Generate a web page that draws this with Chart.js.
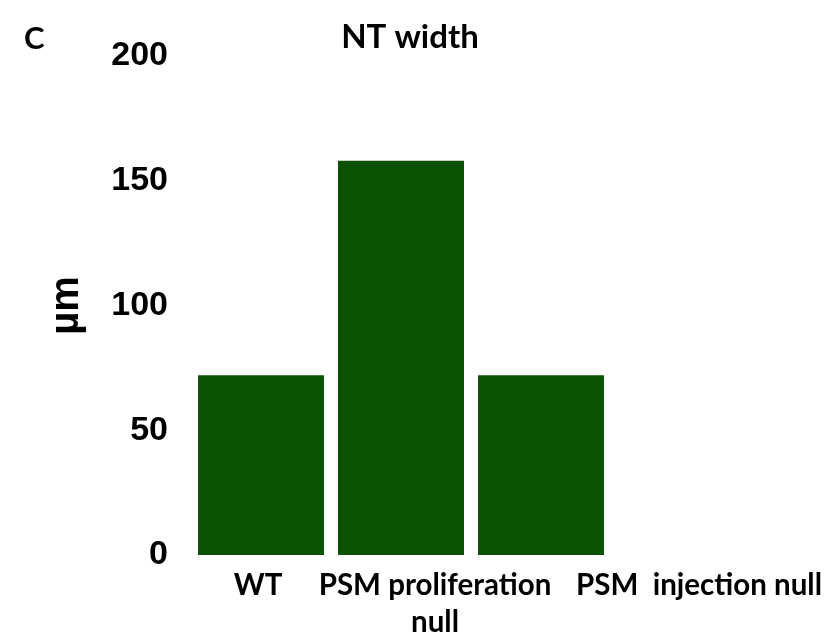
<!DOCTYPE html>
<html lang="en">
<head>
    <meta charset="UTF-8">
    <title>NT width</title>
    <script src="https://cdn.jsdelivr.net/npm/chart.js"></script>
    <style>
        body { margin: 0; background: #fff; }
        .container { width: 833px; height: 640px; }
    </style>
</head>
<body>
    <div class="container">
        <canvas id="ntChart"></canvas>
    </div>

    <script>
        // data
        const categories = [['WT'], ['PSM proliferation', 'null'], ['PSM  injection null']];
        const ntWidth = [72, 158, 72];
        const yTicks = [0, 50, 100, 150, 200];

        const barColor = '#0c5203';
        const labelFont = 'bold 29.5px Lato';
        // the x labels in the figure sit off-centre from their bars
        const labelShift = [-3, 34, 158];

        const extraText = {
            id: 'extraText',
            afterDraw(chart) {
                const ctx = chart.ctx;
                const x = chart.scales.x;
                ctx.save();
                ctx.fillStyle = '#000';
                ctx.textAlign = 'center';
                ctx.textBaseline = 'middle';
                ctx.font = labelFont;
                categories.forEach((lines, i) => {
                    const px = x.getPixelForValue(i) + labelShift[i];
                    lines.forEach((line, j) => {
                        ctx.fillText(line, px, 585 + j * 37);
                    });
                });
                // title, sitting right of the plot centre as in the figure
                ctx.font = 'bold 33px Lato';
                ctx.fillText('NT width', 410, 37);
                // panel letter
                ctx.font = 'bold 31px Lato';
                ctx.textAlign = 'left';
                ctx.fillText('C', 24, 39);
                ctx.restore();
            }
        };

        const ctx = document.getElementById('ntChart').getContext('2d');
        new Chart(ctx, {
            type: 'bar',
            data: {
                labels: categories,
                datasets: [{
                    label: 'NT width',
                    data: ntWidth,
                    backgroundColor: barColor,
                    borderWidth: 0,
                    barPercentage: 0.9,
                    categoryPercentage: 1.0
                }]
            },
            options: {
                responsive: true,
                maintainAspectRatio: false,
                animation: false,
                layout: {
                    padding: { top: 56, right: 222, bottom: 85, left: 0 }
                },
                plugins: {
                    legend: { display: false },
                    tooltip: { enabled: false },
                    title: { display: false }
                },
                scales: {
                    x: {
                        grid: { display: false, drawTicks: false },
                        border: { display: false },
                        ticks: { display: false }
                    },
                    y: {
                        min: 0,
                        max: 200,
                        afterBuildTicks: (scale) => {
                            scale.ticks = yTicks.map(v => ({ value: v }));
                        },
                        afterFit: (scale) => {
                            scale.width = 191;
                        },
                        grid: { display: false, drawTicks: false },
                        border: { display: false },
                        ticks: {
                            color: '#000',
                            padding: 23,
                            font: { family: 'Liberation Sans', size: 34, weight: 'bold' }
                        },
                        title: {
                            display: true,
                            text: 'µm',
                            color: '#000',
                            font: { family: 'Liberation Sans', size: 40, weight: 'bold' },
                            padding: { top: 43, bottom: 0 }
                        }
                    }
                }
            },
            plugins: [extraText]
        });
    </script>
</body>
</html>
